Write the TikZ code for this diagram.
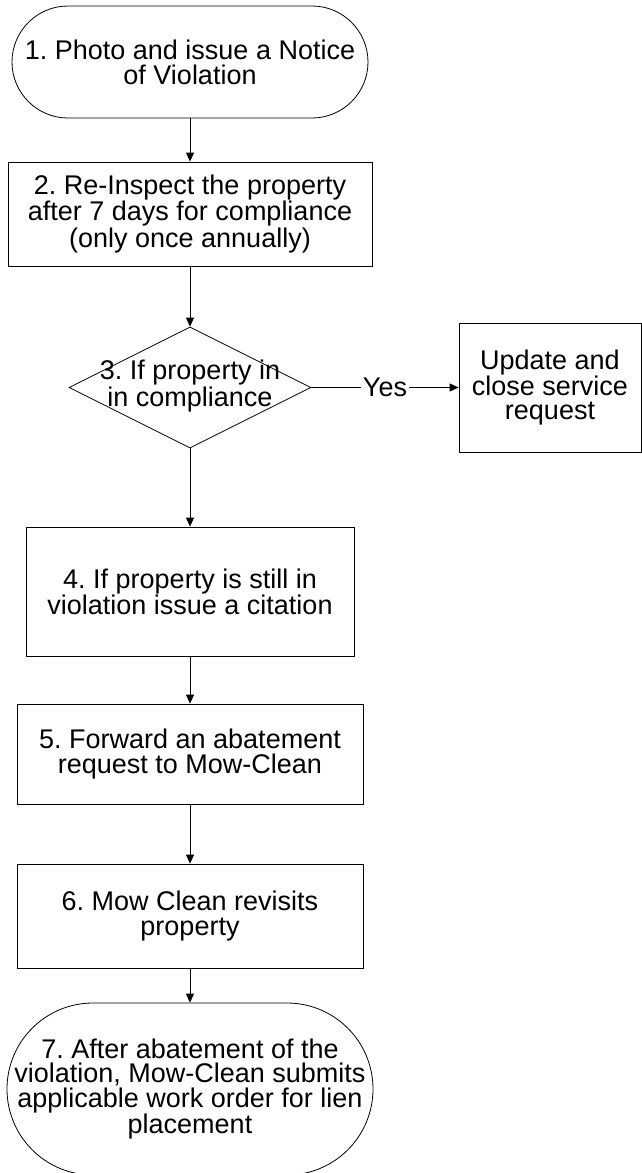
\documentclass[tikz,border=0pt]{standalone}
\usepackage{fontspec}
\setmainfont{Liberation Sans}
\usetikzlibrary{shapes.geometric,arrows.meta}
\frenchspacing
\tikzset{
  txt/.style={font=\fontsize{27}{24.8}\selectfont, align=center, text=black},
  base/.style={txt, draw=black, line width=0.8pt, inner sep=0pt},
  procbox/.style={base, rectangle},
  term/.style={base, rectangle, rounded corners=#1},
  decision/.style={draw=black, line width=0.8pt, diamond, inner sep=0pt},
  flow/.style={draw=black, line width=0.8pt, -{Triangle[length=9pt,width=8pt]}},
}
\begin{document}
\begin{tikzpicture}[x=1pt,y=-1pt]
\useasboundingbox (0,0) rectangle (642,1173);
\clip (0,0) rectangle (642,1173);
\fill[white] (0,0) rectangle (642,1173);

\node[term=56pt, minimum width=356pt, minimum height=112pt] (n1) at (190,62)
  {1. Photo and issue a Notice\\of Violation};
\node[procbox, minimum width=364pt, minimum height=104pt] (n2) at (190,214)
  {2. Re-Inspect the property\\after 7 days for compliance\\(only once annually)};
\node[decision, minimum width=242pt, minimum height=121pt] (n3) at (190,387.5) {};
\node[txt, inner sep=0pt] (t3) at (190,386) {3. If property in\\in compliance};
\node[procbox, minimum width=182pt, minimum height=129pt] (up) at (550,387.5)
  {Update and\\close service\\request};
\node[procbox, minimum width=328pt, minimum height=129pt] (n4) at (190,591.5)
  {4. If property is still in\\violation issue a citation};
\node[procbox, minimum width=346pt, minimum height=100pt] (n5) at (190,754)
  {5. Forward an abatement\\request to Mow-Clean};
\node[procbox, minimum width=346pt, minimum height=104pt] (n6) at (190,916)
  {6. Mow Clean revisits\\property};
\node[term=86pt, minimum width=366pt, minimum height=172pt] (n7) at (190,1089)
  {7. After abatement of the\\violation, Mow-Clean submits\\applicable work order for lien\\placement};

\draw[flow] (n1) -- (n2);
\draw[flow] (n2) -- (n3);
\draw[flow] (n3) -- node[txt, fill=white, inner sep=2pt] (yes) {Yes} (up);
\draw[flow] (n3) -- (n4);
\draw[flow] (n4) -- (n5);
\draw[flow] (n5) -- (n6);
\draw[flow] (n6) -- (n7);
\end{tikzpicture}
\end{document}
